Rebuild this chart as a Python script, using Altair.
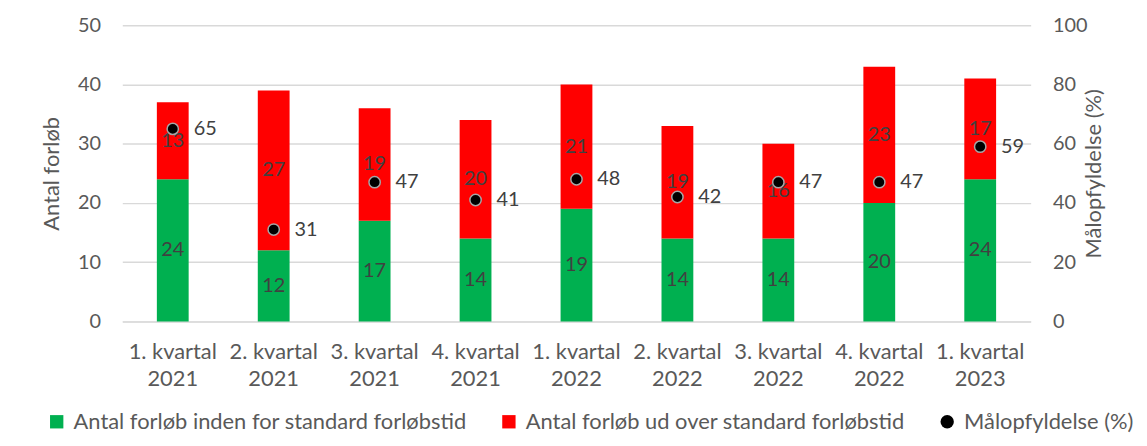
import altair as alt
import pandas as pd

quarters = ["1. kvartal|2021", "2. kvartal|2021", "3. kvartal|2021", "4. kvartal|2021",
            "1. kvartal|2022", "2. kvartal|2022", "3. kvartal|2022", "4. kvartal|2022",
            "1. kvartal|2023"]
within = [24, 12, 17, 14, 19, 14, 14, 20, 24]
over = [13, 27, 19, 20, 21, 19, 16, 23, 17]
pct = [65, 31, 47, 41, 48, 42, 47, 47, 59]

S1 = "Antal forløb inden for standard forløbstid"
S2 = "Antal forløb ud over standard forløbstid"
S3 = "Målopfyldelse (%)"
series_names = [S1, S2, S3]
series_colors = ["#00B050", "#FF0000", "#000000"]
series_shapes = ["square", "square", "circle"]

left_ticks = [0, 10, 20, 30, 40, 50]
right_ticks = [0, 20, 40, 60, 80, 100]

bars_df = pd.DataFrame({
    "kvartal": quarters * 2,
    "serie": [S1] * len(quarters) + [S2] * len(quarters),
    "rk": [0] * len(quarters) + [1] * len(quarters),
    "antal": within + over,
})
pct_df = pd.DataFrame({"kvartal": quarters, "serie": [S3] * len(quarters), "pct": pct})

FONT = "Lato"
TXT = "#404040"
AX = "#595959"

color_scale = alt.Scale(domain=series_names, range=series_colors)
shape_scale = alt.Scale(domain=series_names, range=series_shapes)

x_enc = alt.X("kvartal:N", sort=quarters, title=None,
              scale=alt.Scale(paddingInner=0, paddingOuter=0),
              axis=alt.Axis(labelExpr="split(datum.label, '|')", labelAngle=0,
                            labelFontSize=22, labelColor=AX, labelFont=FONT,
                            labelLineHeight=28, labelPadding=20, ticks=False,
                            domainColor="#D9D9D9", grid=False))

legend = alt.Legend(title=None, orient="none", direction="horizontal",
                    legendX=-77, legendY=388,
                    labelFont=FONT, labelFontSize=22, labelColor=AX, labelLimit=0,
                    symbolSize=180, columnPadding=31, labelOffset=6,
                    symbolStrokeWidth=0)

left_axis = alt.Axis(values=left_ticks, grid=True, gridColor="#D9D9D9", gridWidth=1.5,
                     domain=False, ticks=False, labelFontSize=20, labelColor=AX,
                     labelFont=FONT, labelPadding=22, titleFontSize=22,
                     titleColor=AX, titleFont=FONT, titleFontWeight="normal",
                     titlePadding=14)
right_axis = alt.Axis(orient="right", values=right_ticks, grid=False, domain=False,
                      ticks=False, labelFontSize=20, labelColor=AX, labelFont=FONT,
                      labelPadding=22, titleFontSize=22, titleColor=AX,
                      titleFont=FONT, titleFontWeight="normal", titlePadding=18,
                      titleAngle=270, titleBaseline="bottom")
left_scale = alt.Scale(domain=[0, 50])
right_scale = alt.Scale(domain=[0, 100])

bars = alt.Chart(bars_df).mark_bar(size=32).encode(
    x=x_enc,
    y=alt.Y("antal:Q", stack="zero", title="Antal forløb", scale=left_scale, axis=left_axis),
    color=alt.Color("serie:N", scale=color_scale, legend=legend),
    order=alt.Order("rk:Q"),
)

bar_text = alt.Chart(bars_df).transform_stack(
    stack="antal", groupby=["kvartal"], sort=[alt.SortField("rk")], as_=["y0", "y1"]
).transform_calculate(mid="(datum.y0 + datum.y1) / 2").mark_text(
    font=FONT, fontSize=20, color=TXT
).encode(
    x=x_enc,
    y=alt.Y("mid:Q", title="Antal forløb", scale=left_scale, axis=left_axis),
    text=alt.Text("antal:Q"),
)

points = alt.Chart(pct_df).mark_point(filled=True, size=130, stroke="#A6A6A6",
                                      strokeWidth=1.5, opacity=1).encode(
    x=x_enc,
    y=alt.Y("pct:Q", title="Målopfyldelse (%)", scale=right_scale, axis=right_axis),
    color=alt.Color("serie:N", scale=color_scale, legend=legend),
    shape=alt.Shape("serie:N", scale=shape_scale, legend=legend),
)

point_text = alt.Chart(pct_df).mark_text(font=FONT, fontSize=20, color=TXT,
                                         align="left", dx=21).encode(
    x=x_enc,
    y=alt.Y("pct:Q", title="Målopfyldelse (%)", scale=right_scale, axis=right_axis),
    text=alt.Text("pct:Q"),
)

left = alt.layer(bars, bar_text)
right = alt.layer(points, point_text)

chart = alt.layer(left, right).resolve_scale(y="independent").properties(
    width=914, height=298, background="white",
    padding={"left": 32, "top": 6, "right": 5, "bottom": 5},
).configure_view(stroke=None)

chart.save("out.html", embed_options={"renderer": "svg", "actions": False})
